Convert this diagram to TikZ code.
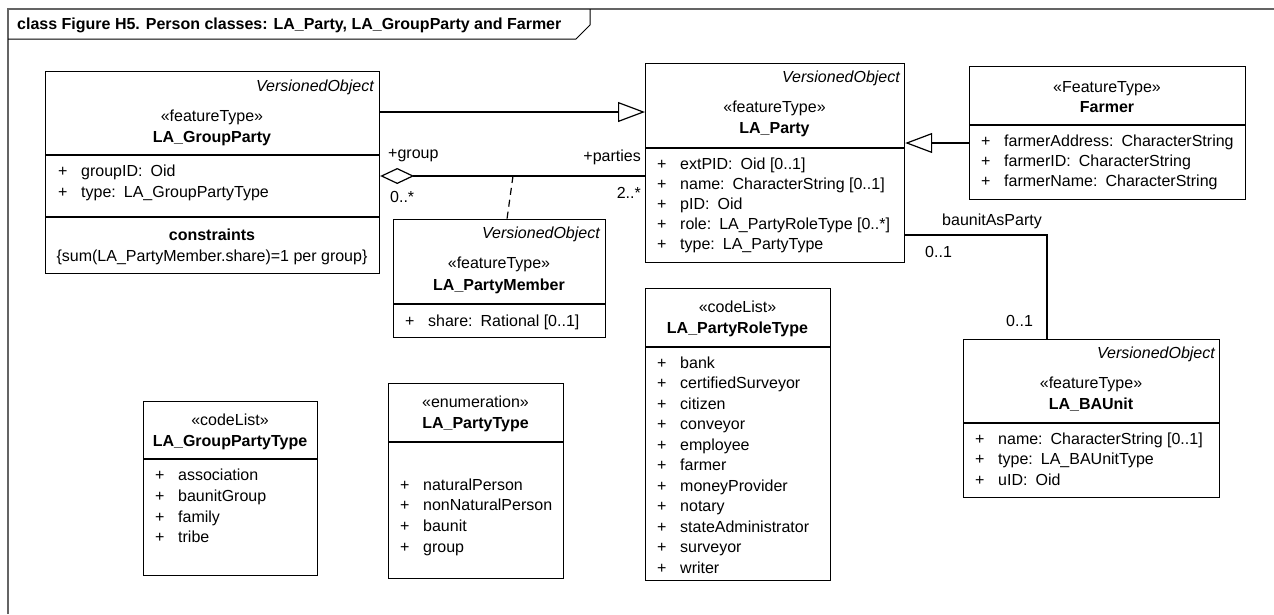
\documentclass[tikz,border=0pt]{standalone}
\usepackage{fontspec}
\setmainfont{Liberation Sans}
\usetikzlibrary{arrows.meta,calc}
\newcommand\ugap{\hspace{0.5em}}
\newcommand\umlattr[4]{%
  \node[txt,anchor=base west] (#1a) at (#2,#3) {+};
  \node[txt,anchor=base west] (#1b) at (#2+23,#3) {#4};}
\definecolor{framegray}{RGB}{100,100,100}
\begin{document}
\begin{tikzpicture}[x=1pt,y=-1pt,
  txt/.style={inner sep=0pt,font=\fontsize{16}{19}\selectfont},
  bold/.style={inner sep=0pt,font=\fontsize{16}{19}\selectfont\bfseries},
  ital/.style={inner sep=0pt,font=\fontsize{16}{19}\selectfont\itshape},
  classbox/.style={draw=black,line width=1.2pt,inner sep=0pt,anchor=north west},
  divider/.style={line width=1.2pt,draw=black},
  conn/.style={line width=1.2pt,draw=black},
  gen/.style={conn,arrows={-Triangle[length=27pt,width=20pt,fill=white]}},
  agg/.style={conn,arrows={Diamond[length=34pt,width=16pt,fill=white]-}},
  assocclass/.style={conn,dash pattern=on 7pt off 5pt},
  frameline/.style={draw=framegray,line width=2pt},
  tabline/.style={draw=black,line width=1pt}]
\fill[white] (0,0) rectangle (1274,614);
\useasboundingbox (0,0) rectangle (1274,614);

% frame
\draw[frameline] (8,614) -- (8,9) -- (1274,9);
\draw[tabline] (8,39) -- (576,39) -- (590,25) -- (590,9);
\node[bold,anchor=base west] (title) at (17,29) {class Figure H5. Person classes: LA\_Party, LA\_GroupParty and Farmer};

% LA_GroupParty
\node[classbox,minimum width=334pt,minimum height=202pt] (gp) at (45,71) {};
\draw[divider] (45,155) -- (379,155);
\draw[divider] (45,217) -- (379,217);
\node[ital,anchor=base east] (gpvo) at (374,91) {VersionedObject};
\node[txt,anchor=base] (gpst) at (212,121) {«featureType»};
\node[bold,anchor=base] (gpnm) at (212,142) {LA\_GroupParty};
\umlattr{gpA}{58}{176}{groupID:\ugap Oid}
\umlattr{gpB}{58}{197}{type:\ugap LA\_GroupPartyType}
\node[bold,anchor=base] (gpc) at (212,240) {constraints};
\node[txt,anchor=base] (gpct) at (212,261) {\{sum(LA\_PartyMember.share)=1 per group\}};

% LA_Party
\node[classbox,minimum width=259pt,minimum height=199pt] (party) at (645,63) {};
\draw[divider] (645,148) -- (904,148);
\node[ital,anchor=base east] (pavo) at (900,82) {VersionedObject};
\node[txt,anchor=base] (past) at (774.5,112) {«featureType»};
\node[bold,anchor=base] (panm) at (774.5,133) {LA\_Party};
\umlattr{paA}{657}{169}{extPID:\ugap Oid [0..1]}
\umlattr{paB}{657}{189}{name:\ugap CharacterString [0..1]}
\umlattr{paC}{657}{209}{pID:\ugap Oid}
\umlattr{paD}{657}{229}{role:\ugap LA\_PartyRoleType [0..*]}
\umlattr{paE}{657}{249}{type:\ugap LA\_PartyType}

% Farmer
\node[classbox,minimum width=276pt,minimum height=133pt] (farmer) at (969,66) {};
\draw[divider] (969,125) -- (1245,125);
\node[txt,anchor=base] (fast) at (1107,92) {«FeatureType»};
\node[bold,anchor=base] (fanm) at (1107,112) {Farmer};
\umlattr{faA}{981}{146}{farmerAddress:\ugap CharacterString}
\umlattr{faB}{981}{166}{farmerID:\ugap CharacterString}
\umlattr{faC}{981}{186}{farmerName:\ugap CharacterString}

% LA_PartyMember
\node[classbox,minimum width=212pt,minimum height=118pt] (pm) at (393,219) {};
\draw[divider] (393,304) -- (605,304);
\node[ital,anchor=base east] (pmvo) at (600,238) {VersionedObject};
\node[txt,anchor=base] (pmst) at (499,268) {«featureType»};
\node[bold,anchor=base] (pmnm) at (499,290) {LA\_PartyMember};
\umlattr{pmA}{405}{326}{share:\ugap Rational [0..1]}

% LA_GroupPartyType
\node[classbox,minimum width=174pt,minimum height=174pt] (gpt) at (143,401) {};
\draw[divider] (143,459) -- (317,459);
\node[txt,anchor=base] (gptst) at (230,425) {«codeList»};
\node[bold,anchor=base] (gptnm) at (230,446) {LA\_GroupPartyType};
\umlattr{gtA}{155}{480}{association}
\umlattr{gtB}{155}{501}{baunitGroup}
\umlattr{gtC}{155}{522}{family}
\umlattr{gtD}{155}{542}{tribe}

% LA_PartyType
\node[classbox,minimum width=175pt,minimum height=195pt] (pt) at (388,383) {};
\draw[divider] (388,442) -- (563,442);
\node[txt,anchor=base] (ptst) at (475.5,407) {«enumeration»};
\node[bold,anchor=base] (ptnm) at (475.5,428) {LA\_PartyType};
\umlattr{ptA}{400}{490}{naturalPerson}
\umlattr{ptB}{400}{510}{nonNaturalPerson}
\umlattr{ptC}{400}{531}{baunit}
\umlattr{ptD}{400}{552}{group}

% LA_PartyRoleType
\node[classbox,minimum width=185pt,minimum height=292pt] (prt) at (645,288) {};
\draw[divider] (645,347) -- (830,347);
\node[txt,anchor=base] (prtst) at (737.5,312) {«codeList»};
\node[bold,anchor=base] (prtnm) at (737.5,333) {LA\_PartyRoleType};
\umlattr{rtA}{657}{368}{bank}
\umlattr{rtB}{657}{388.5}{certifiedSurveyor}
\umlattr{rtC}{657}{409}{citizen}
\umlattr{rtD}{657}{429.5}{conveyor}
\umlattr{rtE}{657}{450}{employee}
\umlattr{rtF}{657}{470.5}{farmer}
\umlattr{rtG}{657}{491}{moneyProvider}
\umlattr{rtH}{657}{511.5}{notary}
\umlattr{rtI}{657}{532}{stateAdministrator}
\umlattr{rtJ}{657}{552.5}{surveyor}
\umlattr{rtK}{657}{573}{writer}

% LA_BAUnit
\node[classbox,minimum width=256pt,minimum height=158pt] (bau) at (963,339) {};
\draw[divider] (963,423) -- (1219,423);
\node[ital,anchor=base east] (bavo) at (1215,358) {VersionedObject};
\node[txt,anchor=base] (bast) at (1091,388) {«featureType»};
\node[bold,anchor=base] (banm) at (1091,409) {LA\_BAUnit};
\umlattr{baA}{975}{444}{name:\ugap CharacterString [0..1]}
\umlattr{baB}{975}{464}{type:\ugap LA\_BAUnitType}
\umlattr{baC}{975}{485}{uID:\ugap Oid}

% connectors
\coordinate (yg1) at (0,112);
\draw[gen] (gp.east |- yg1) -- (party.west |- yg1);
\coordinate (ya) at (0,176);
\draw[agg] (gp.east |- ya) -- (party.west |- ya);
\coordinate (amid) at (513,176);
\draw[assocclass] (amid) -- ($(pm.north west)+(114,0)$);
\coordinate (yg2) at (0,143);
\draw[gen] (farmer.west |- yg2) -- (party.east |- yg2);
\coordinate (yb) at (0,235);
\coordinate (xb) at (1047,0);
\draw[conn] (party.east |- yb) -| (xb |- bau.north);

% connector labels
\node[txt,anchor=base west] (lgroup) at (388,158) {+group};
\node[txt,anchor=base west] (lgm) at (390,202) {0..*};
\node[txt,anchor=base east] (lparties) at (641,161) {+parties};
\node[txt,anchor=base east] (lpm) at (641,198) {2..*};
\node[txt,anchor=base west] (lbap) at (942,225) {baunitAsParty};
\node[txt,anchor=base west] (lbm1) at (925,257) {0..1};
\node[txt,anchor=base west] (lbm2) at (1006,326) {0..1};
\end{tikzpicture}
\end{document}
